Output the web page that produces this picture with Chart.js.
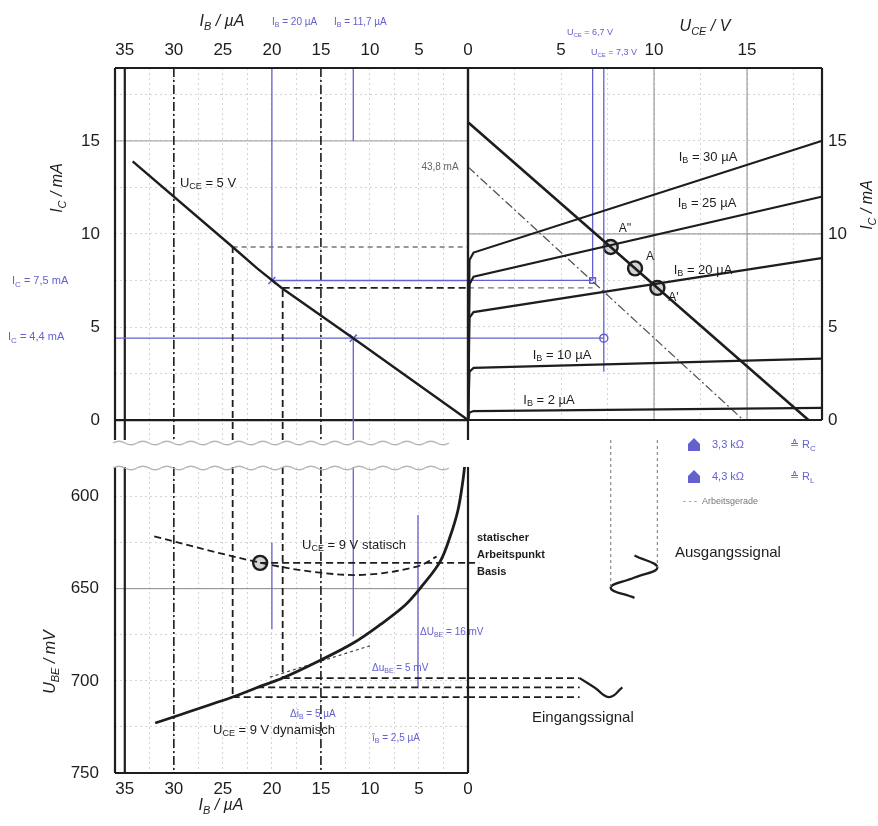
<!DOCTYPE html>
<html>
<head>
<meta charset="utf-8">
<title>Vierquadranten-Kennlinienfeld</title>
<script src="https://cdn.jsdelivr.net/npm/chart.js@4.4.1/dist/chart.umd.min.js"></script>
<style>
  html, body { margin: 0; background: #fff; }
  #wrap { position: relative; width: 878px; height: 826px; }
  #wrap canvas { position: absolute; left: 0; top: 0; }
</style>
</head>
<body>
<div id="wrap">
  <canvas id="transfer" width="878" height="826"></canvas>
  <canvas id="output" width="878" height="826"></canvas>
  <canvas id="input" width="878" height="826"></canvas>
  <canvas id="signals" width="878" height="826"></canvas>
</div>
<script>
// tick labels
const ibTickLabels = [35, 30, 25, 20, 15, 10, 5, 0];
const icTickLabels = [0, 5, 10, 15];
const uceTickLabels = [5, 10, 15];
const ubeTickLabels = [600, 650, 700, 750];

// Stromsteuerkennlinie I_C(I_B), U_CE = 5 V
const ibTransfer = [34.2, 24.0, 21.5, 19.0, 11.7, 0];
const icTransfer = [13.9, 9.3, 8.15, 7.1, 4.4, 0];

// Ausgangskennlinien I_C(U_CE)
const uceSteps = [0, 0.08, 0.3, 19];
const icIb2 = [0, 0.4, 0.48, 0.65];
const icIb10 = [0, 2.6, 2.8, 3.3];
const icIb20 = [0, 5.5, 5.8, 8.7];
const icIb25 = [0, 7.3, 7.7, 12.0];
const icIb30 = [0, 8.6, 9.0, 15.0];
const ibCurveLabels = ['I_B = 2 µA', 'I_B = 10 µA', 'I_B = 20 µA', 'I_B = 25 µA', 'I_B = 30 µA'];

// Arbeitsgeraden
const uceLoadDc = [0, 18.3];
const icLoadDc = [16.0, 0];
const uceLoadAc = [0, 14.8];
const icLoadAc = [13.6, 0];

// Arbeitspunkte A'', A, A'
const opNames = ["A''", 'A', "A'"];
const opUce = [7.67, 8.98, 10.18];
const opIc = [9.3, 8.15, 7.1];
const ibSwing = [24.0, 21.5, 18.9];
const ubeSwing = [708.8, 703.6, 698.5];

// Eingangskennlinie U_BE(I_B), U_CE = 9 V
const ibInput = [31.9, 24.0, 21.5, 18.9, 15.0, 11.7, 9.0, 6.4, 4.6, 2.86, 1.84, 1.02, 0.51, 0.31];
const ubeInput = [722.9, 708.8, 703.6, 698.5, 688.7, 679.5, 669.7, 658.9, 648.0, 635.5, 622.0, 607.3, 591.1, 581.9];
const ibStatic = [32, 21.2, 15.1, 10.3, 5.2, 3.2];
const ubeStatic = [621.7, 635.9, 641.3, 642.4, 638, 632.6];
const ibDynamic = [20.2, 10];
const ubeDynamic = [698, 681];
const ibQ = 21.2;
const ubeQ = 636;

// blaue Ablesehilfen
const ibMarkA = 20, icMarkA = 7.5;
const ibMarkB = 11.7, icMarkB = 4.4;
const uceMarkA = 6.7, uceMarkB = 7.3;
const uceMarkBEnd = 2.6;
const ibDelta = 5.1;
const ubeDeltaTop = 610;

// Signalverlaeufe
const outSignalUce = [8.95, 10.18, 8.95, 7.67, 8.95];
const outSignalPos = [632, 638.5, 644, 649.5, 655];
const inSignalUce = [6.0, 6.8, 7.6, 8.3];
const inSignalUbe = [698.5, 703.6, 708.8, 703.6];

// ---- drawing ----
const W = 878, H = 826;
const FONT = '"Liberation Sans", Arial, Helvetica, sans-serif';
const INK = '#1d1d1d';
const BLUE = '#6460cf';
const GRID = '#d4d4d4';
const DASH = [7, 4];
const DASHDOT = [9, 3, 2, 3];

// scale ranges of the four panels
const IB_MAX = 36;
const IC_MIN = -1.07, IC_MAX = 18.92;
const UCE_MAX = 19.03;
const UBE_MIN = 584, UBE_MAX = 750;
const SIG_UCE_MAX = 22.04, SIG_MIN = 569.35, SIG_MAX = 778.75;

const pts = (xs, ys) => xs.map((x, i) => ({ x, y: ys[i] }));

function line(xs, ys, o = {}) {
  return Object.assign({
    data: pts(xs, ys), borderColor: INK, borderWidth: 2.2,
    pointRadius: 0, tension: 0, fill: false
  }, o);
}
const dashed = { borderWidth: 1.8, borderDash: DASH };
const blue = { borderColor: BLUE, borderWidth: 1.3 };

function steps(min, max, step) {
  const out = [];
  for (let v = Math.ceil(min / step) * step; v <= max + 1e-9; v += step) {
    out.push(Math.round(v * 1000) / 1000);
  }
  return out;
}

// axis boxes get a fixed size so the plot areas line up across panels
function axis(min, max, position, step, labels, size, pad, extra = {}) {
  return Object.assign({
    type: 'linear', min, max, position,
    border: { display: false, dash: [2, 3] },
    grid: { color: GRID, lineWidth: 1, drawTicks: false },
    ticks: {
      autoSkip: false, maxRotation: 0, padding: pad, color: INK,
      font: { family: FONT, size: 17 },
      callback: v => (labels.includes(v) ? String(v) : '')
    },
    afterBuildTicks: s => { s.ticks = steps(min, max, step).map(value => ({ value })); },
    afterFit: s => { if (s.isHorizontal()) s.height = size; else s.width = size; }
  }, extra);
}

function richText(ctx, str, x, y, o) {
  const size = o.size || 13;
  const style = (o.italic ? 'italic ' : '') + (o.bold ? 'bold ' : '');
  const runs = [];
  const re = /_([A-Za-z]+)/g;
  let last = 0, m;
  while ((m = re.exec(str))) {
    if (m.index > last) runs.push([str.slice(last, m.index), false]);
    runs.push([m[1], true]);
    last = re.lastIndex;
  }
  if (last < str.length) runs.push([str.slice(last), false]);
  const fontOf = sub => `${style}${sub ? Math.round(size * 0.7) : size}px ${FONT}`;
  let w = 0;
  runs.forEach(([t, sub]) => { ctx.font = fontOf(sub); w += ctx.measureText(t).width; });
  ctx.save();
  ctx.translate(x, y);
  if (o.rot) ctx.rotate(o.rot * Math.PI / 180);
  let cx = o.align === 'right' ? -w : o.align === 'center' ? -w / 2 : 0;
  ctx.fillStyle = o.color || INK;
  ctx.textAlign = 'left';
  ctx.textBaseline = 'middle';
  runs.forEach(([t, sub]) => {
    ctx.font = fontOf(sub);
    ctx.fillText(t, cx, sub ? size * 0.3 : 0);
    cx += ctx.measureText(t).width;
  });
  ctx.restore();
}

// text labels; px/py in pixels or x/y in data units
function notes(items) {
  return {
    id: 'notes',
    afterDraw(chart) {
      const { ctx, scales } = chart;
      items.forEach(n => {
        const px = n.px !== undefined ? n.px : scales.x.getPixelForValue(n.x);
        const py = n.py !== undefined ? n.py : scales.y.getPixelForValue(n.y);
        richText(ctx, n.t, px + (n.dx || 0), py + (n.dy || 0), n);
      });
    }
  };
}

// reference lines across the whole panel
function guides(items) {
  return {
    id: 'guides',
    beforeDatasetsDraw(chart) {
      const { ctx, chartArea: a, scales } = chart;
      ctx.save();
      items.forEach(g => {
        ctx.strokeStyle = g.color || INK;
        ctx.lineWidth = g.width || 1;
        ctx.setLineDash(g.dash || []);
        ctx.beginPath();
        if (g.axis === 'x') {
          const p = scales.x.getPixelForValue(g.v);
          ctx.moveTo(p, a.top); ctx.lineTo(p, a.bottom);
        } else {
          const p = scales.y.getPixelForValue(g.v);
          ctx.moveTo(a.left, p); ctx.lineTo(a.right, p);
        }
        ctx.stroke();
      });
      ctx.restore();
    }
  };
}

function frame(sides) {
  return {
    id: 'frame',
    afterDatasetsDraw(chart) {
      const { ctx, chartArea: a } = chart;
      ctx.save();
      ctx.strokeStyle = INK;
      ctx.lineWidth = 2.2;
      ctx.beginPath();
      if (sides.includes('t')) { ctx.moveTo(a.left, a.top); ctx.lineTo(a.right, a.top); }
      if (sides.includes('b')) { ctx.moveTo(a.left, a.bottom); ctx.lineTo(a.right, a.bottom); }
      if (sides.includes('l')) { ctx.moveTo(a.left, a.top); ctx.lineTo(a.left, a.bottom); }
      if (sides.includes('r')) { ctx.moveTo(a.right, a.top); ctx.lineTo(a.right, a.bottom); }
      ctx.stroke();
      ctx.restore();
    }
  };
}

// axis break between the I_C and U_BE panels
const axisBreak = {
  id: 'axisBreak',
  afterDraw(chart) {
    const { ctx, chartArea: a } = chart;
    ctx.save();
    ctx.strokeStyle = '#b4b4b4';
    ctx.lineWidth = 1.3;
    [a.top - 24, a.top + 1].forEach(y0 => {
      ctx.beginPath();
      ctx.moveTo(a.left - 2, y0);
      for (let x = a.left - 2; x + 24 <= a.right + 2; x += 24) {
        ctx.quadraticCurveTo(x + 6, y0 - 3.5, x + 12, y0);
        ctx.quadraticCurveTo(x + 18, y0 + 3.5, x + 24, y0);
      }
      ctx.stroke();
    });
    ctx.restore();
  }
};

const legendIcons = {
  id: 'legendIcons',
  afterDraw(chart) {
    const { ctx } = chart;
    ctx.save();
    ctx.fillStyle = BLUE;
    [[694, 445], [694, 477]].forEach(([x, y]) => {
      ctx.beginPath();
      ctx.moveTo(x - 6, y + 6); ctx.lineTo(x - 6, y - 1); ctx.lineTo(x, y - 7);
      ctx.lineTo(x + 6, y - 1); ctx.lineTo(x + 6, y + 6); ctx.closePath();
      ctx.fill();
    });
    ctx.restore();
  }
};

// box = plot area [left, top, right, bottom] in page pixels; sizes = axis boxes
function build(id, box, sizes, scales, datasets, plugins) {
  const pad = {
    left: box[0] - (sizes.left || 0),
    top: box[1] - (sizes.top || 0),
    right: W - box[2] - (sizes.right || 0),
    bottom: H - box[3] - (sizes.bottom || 0)
  };
  return new Chart(document.getElementById(id), {
    type: 'line',
    data: { datasets },
    options: {
      responsive: false,
      animation: false,
      events: [],
      layout: { padding: pad },
      plugins: { legend: { display: false }, tooltip: { enabled: false } },
      scales
    },
    plugins
  });
}

const ring = (xs, ys) => ({
  data: pts(xs, ys), showLine: false, pointStyle: 'circle', pointRadius: 7,
  pointBorderWidth: 2.4, pointBorderColor: INK, pointBackgroundColor: 'rgba(130,130,130,0.35)'
});

// ---- I_C(I_B), upper left ----
build('transfer', [115, 68, 468, 440], { top: 40, left: 50 }, {
  x: axis(0, IB_MAX, 'top', 2.5, ibTickLabels, 40, 7, { reverse: true }),
  y: axis(IC_MIN, IC_MAX, 'left', 2.5, icTickLabels, 50, 15)
}, [
  line(ibTransfer, icTransfer, { borderWidth: 2.4 }),
  line([ibSwing[0], ibSwing[0]], [IC_MIN, opIc[0]], dashed),
  line([ibSwing[2], ibSwing[2]], [IC_MIN, opIc[2]], dashed),
  line([ibSwing[0], 0], [opIc[0], opIc[0]], { borderColor: '#777', borderWidth: 1.3, borderDash: [5, 4] }),
  line([ibSwing[2], 0], [opIc[2], opIc[2]], dashed),
  line([ibMarkA, ibMarkA], [IC_MAX, icMarkA], blue),
  line([ibMarkA, 0], [icMarkA, icMarkA], blue),
  line([ibMarkB, ibMarkB], [IC_MAX, 15], blue),
  line([ibMarkB, ibMarkB], [icMarkB, IC_MIN], blue),
  line([IB_MAX, 0], [icMarkB, icMarkB], blue),
  { data: pts([ibMarkA, ibMarkB], [icMarkA, icMarkB]), showLine: false, pointStyle: 'crossRot',
    pointRadius: 5, pointBorderColor: BLUE, pointBorderWidth: 1.6 }
], [
  guides([
    { axis: 'y', v: 15, color: '#9a9a9a' },
    { axis: 'y', v: 0, width: 2.2 },
    { axis: 'x', v: 35, width: 2.2 },
    { axis: 'x', v: 30, width: 1.6, dash: DASHDOT },
    { axis: 'x', v: 15, width: 1.6, dash: DASHDOT }
  ]),
  frame('tlr'),
  notes([
    { px: 222, py: 22, t: 'I_B / µA', size: 16, italic: true, align: 'center' },
    { px: 272, py: 22, t: 'I_B = 20 µA', size: 10, color: BLUE },
    { px: 334, py: 22, t: 'I_B = 11,7 µA', size: 10, color: BLUE },
    { px: 58, py: 188, t: 'I_C / mA', size: 16, italic: true, align: 'center', rot: -90 },
    { px: 12, py: 281, t: 'I_C = 7,5 mA', size: 11, color: BLUE },
    { px: 8, py: 337, t: 'I_C = 4,4 mA', size: 11, color: BLUE },
    { px: 208, py: 183, t: 'U_CE = 5 V', size: 13, align: 'center' },
    { px: 440, py: 167, t: '43,8 mA', size: 10, color: '#666', align: 'center' }
  ])
]);

// ---- I_C(U_CE), upper right ----
const curveSets = [icIb2, icIb10, icIb20, icIb25, icIb30];
build('output', [468, 68, 822, 420], { top: 40, right: 40 }, {
  x: axis(0, UCE_MAX, 'top', 2.5, uceTickLabels, 40, 7),
  y: axis(0, IC_MAX, 'right', 2.5, icTickLabels, 40, 6)
}, [
  ...curveSets.map(ic => line(uceSteps, ic, { borderWidth: 2.2 })),
  line(uceLoadDc, icLoadDc, { borderWidth: 2.6 }),
  line(uceLoadAc, icLoadAc, { borderColor: '#555', borderWidth: 1.3, borderDash: DASHDOT }),
  line([0, uceMarkA], [opIc[2], opIc[2]], { borderColor: '#777', borderWidth: 1.3, borderDash: [6, 4] }),
  line([uceMarkA, uceMarkA], [IC_MAX, icMarkA], blue),
  line([0, uceMarkA], [icMarkA, icMarkA], blue),
  line([uceMarkB, uceMarkB], [IC_MAX, uceMarkBEnd], blue),
  line([0, uceMarkB], [icMarkB, icMarkB], blue),
  { data: pts([uceMarkA], [icMarkA]), showLine: false, pointStyle: 'rect', pointRadius: 4,
    pointBorderColor: BLUE, pointBorderWidth: 1.5, pointBackgroundColor: '#fff' },
  { data: pts([uceMarkB], [icMarkB]), showLine: false, pointStyle: 'circle', pointRadius: 4,
    pointBorderColor: BLUE, pointBorderWidth: 1.5, pointBackgroundColor: '#fff' },
  ring(opUce, opIc)
], [
  guides([
    { axis: 'x', v: 10, color: '#8a8a8a' },
    { axis: 'x', v: 15, color: '#8a8a8a' },
    { axis: 'y', v: 10, color: '#8a8a8a' }
  ]),
  frame('tblr'),
  notes([
    { px: 705, py: 27, t: 'U_CE / V', size: 16, italic: true, align: 'center' },
    { px: 590, py: 33, t: 'U_CE = 6,7 V', size: 9, color: BLUE, align: 'center' },
    { px: 614, py: 53, t: 'U_CE = 7,3 V', size: 9, color: BLUE, align: 'center' },
    { px: 868, py: 205, t: 'I_C / mA', size: 16, italic: true, align: 'center', rot: -90 },
    { px: 549, py: 400, t: ibCurveLabels[0], size: 13, align: 'center' },
    { px: 562, py: 355, t: ibCurveLabels[1], size: 13, align: 'center' },
    { px: 703, py: 270, t: ibCurveLabels[2], size: 13, align: 'center' },
    { px: 707, py: 203, t: ibCurveLabels[3], size: 13, align: 'center' },
    { px: 708, py: 157, t: ibCurveLabels[4], size: 13, align: 'center' },
    { x: opUce[0], y: opIc[0], dx: 8, dy: -18, t: opNames[0], size: 12 },
    { x: opUce[1], y: opIc[1], dx: 11, dy: -12, t: opNames[1], size: 12 },
    { x: opUce[2], y: opIc[2], dx: 11, dy: 10, t: opNames[2], size: 12 }
  ])
]);

// ---- U_BE(I_B), lower left ----
build('input', [115, 467, 468, 773], { left: 60, bottom: 30 }, {
  x: axis(0, IB_MAX, 'bottom', 2.5, ibTickLabels, 30, 6, { reverse: true }),
  y: axis(UBE_MIN, UBE_MAX, 'left', 25, ubeTickLabels, 60, 16, { reverse: true })
}, [
  line(ibInput, ubeInput, { borderWidth: 2.8, tension: 0.35 }),
  line(ibStatic, ubeStatic, { borderWidth: 1.8, borderDash: DASH, tension: 0.35 }),
  line([ibQ, 0], [ubeQ, ubeQ], dashed),
  line(ibDynamic, ubeDynamic, { borderColor: '#444', borderWidth: 1.2, borderDash: [3, 3] }),
  line([ibSwing[0], ibSwing[0]], [UBE_MIN, ubeSwing[0]], dashed),
  line([ibSwing[2], ibSwing[2]], [UBE_MIN, ubeSwing[2]], dashed),
  ...ibSwing.map((ib, i) => line([ib, 0], [ubeSwing[i], ubeSwing[i]], dashed)),
  line([ibMarkA, ibMarkA], [625, 672], blue),
  line([ibMarkB, ibMarkB], [UBE_MIN, 676], blue),
  line([ibDelta, ibDelta], [ubeDeltaTop, ubeSwing[1]], blue),
  ring([ibQ], [ubeQ])
], [
  guides([
    { axis: 'y', v: 650, color: '#8a8a8a' },
    { axis: 'x', v: 35, width: 2.2 },
    { axis: 'x', v: 30, width: 1.6, dash: DASHDOT },
    { axis: 'x', v: 15, width: 1.6, dash: DASHDOT }
  ]),
  frame('lrb'),
  axisBreak,
  notes([
    { px: 354, py: 545, t: 'U_CE = 9 V statisch', size: 13, align: 'center' },
    { px: 274, py: 730, t: 'U_CE = 9 V dynamisch', size: 13, align: 'center' },
    { px: 51, py: 662, t: 'U_BE / mV', size: 16, italic: true, align: 'center', rot: -90 },
    { px: 221, py: 806, t: 'I_B / µA', size: 16, italic: true, align: 'center' },
    { px: 420, py: 632, t: 'ΔU_BE = 16 mV', size: 10, color: BLUE },
    { px: 372, py: 668, t: 'Δu_BE = 5 mV', size: 10, color: BLUE },
    { px: 290, py: 714, t: 'Δi_B = 5 µA', size: 10, color: BLUE },
    { px: 372, py: 738, t: 'î_B = 2,5 µA', size: 10, color: BLUE }
  ])
]);

// ---- signals, lower right ----
build('signals', [468, 440, 878, 826], {}, {
  x: { type: 'linear', min: 0, max: SIG_UCE_MAX, display: false },
  y: { type: 'linear', min: SIG_MIN, max: SIG_MAX, reverse: true, display: false }
}, [
  ...ubeSwing.map(u => line([0, inSignalUce[0]], [u, u], dashed)),
  line([0, 0.6], [ubeQ, ubeQ], dashed),
  line([opUce[0], opUce[0]], [SIG_MIN, outSignalPos[3]], { borderColor: '#8a8a8a', borderWidth: 1.2, borderDash: [3, 3] }),
  line([opUce[2], opUce[2]], [SIG_MIN, outSignalPos[1]], { borderColor: '#8a8a8a', borderWidth: 1.2, borderDash: [3, 3] }),
  line(outSignalUce, outSignalPos, { borderWidth: 2.2, tension: 0.45 }),
  line(inSignalUce, inSignalUbe, { borderWidth: 2.2, tension: 0.45 })
], [
  legendIcons,
  notes([
    { px: 477, py: 538, t: 'statischer', size: 11, bold: true },
    { px: 477, py: 555, t: 'Arbeitspunkt', size: 11, bold: true },
    { px: 477, py: 572, t: 'Basis', size: 11, bold: true },
    { px: 675, py: 553, t: 'Ausgangssignal', size: 15 },
    { px: 532, py: 718, t: 'Eingangssignal', size: 15 },
    { px: 712, py: 445, t: '3,3 kΩ', size: 11, color: BLUE },
    { px: 790, py: 445, t: '≙ R_C', size: 11, color: BLUE },
    { px: 712, py: 477, t: '4,3 kΩ', size: 11, color: BLUE },
    { px: 790, py: 477, t: '≙ R_L', size: 11, color: BLUE },
    { px: 683, py: 502, t: '- - -  Arbeitsgerade', size: 9, color: '#777' }
  ])
]);
</script>
</body>
</html>
